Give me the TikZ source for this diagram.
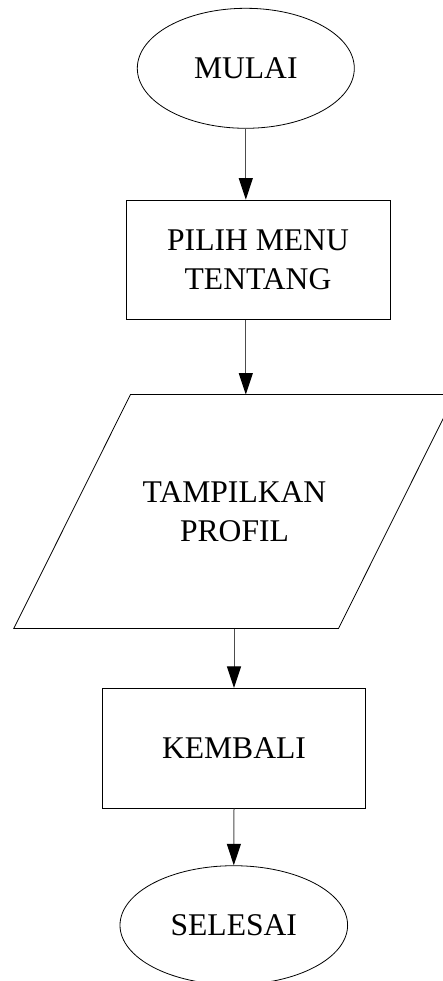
\documentclass[tikz,border=0pt]{standalone}
\usepackage{fontspec}
\setmainfont{Liberation Serif}
\usetikzlibrary{shapes.geometric,arrows.meta,calc}

\tikzset{
  label text/.style={font=\fontsize{31.6pt}{39.5pt}\selectfont, align=center, inner sep=0pt},
  terminal/.style={label text, draw=black, line width=0.8pt, ellipse},
  process/.style={label text, draw=black, line width=0.8pt, rectangle},
  iobox/.style={label text, rectangle},
  flow/.style={draw=black!70, line width=1pt,
    -{Triangle[width=14pt,length=21.5pt,color=black,fill=black]}}
}

\begin{document}
\begin{tikzpicture}[x=1pt,y=-1pt]
  \useasboundingbox (0,0) rectangle (443,981);

  % terminals and steps
  \node[terminal, minimum width=217pt, minimum height=120pt]
    (mulai) at (245.8,68.3) {MULAI};
  \node[process, minimum width=264pt, minimum height=119.3pt]
    (pilih) at (258,259.7) {PILIH MENU\\TENTANG};
  \node[iobox, minimum width=324.3pt, minimum height=233.6pt]
    (profil) at (234.5,511.5) {TAMPILKAN\\PROFIL};
  \node[process, minimum width=263.4pt, minimum height=120pt]
    (kembali) at (234,748.3) {KEMBALI};
  \node[terminal, minimum width=227.6pt, minimum height=119pt]
    (selesai) at (233.8,925.2) {SELESAI};

  % input/output parallelogram around the profil node
  \draw[black, line width=0.8pt]
    ($(profil.south west)+(-58.35,0)$) -- ($(profil.south east)+(-58.35,0)$)
    -- ($(profil.north east)+(58.35,0)$) -- ($(profil.north west)+(58.35,0)$)
    -- cycle;

  % connectors
  \draw[flow] (mulai.south) -- (mulai.south |- pilih.north);
  \draw[flow] (mulai.south |- pilih.south) -- (mulai.south |- profil.north);
  \draw[flow] (kembali.north |- profil.south) -- (kembali.north);
  \draw[flow] (kembali.south) -- (selesai.north);
\end{tikzpicture}
\end{document}
